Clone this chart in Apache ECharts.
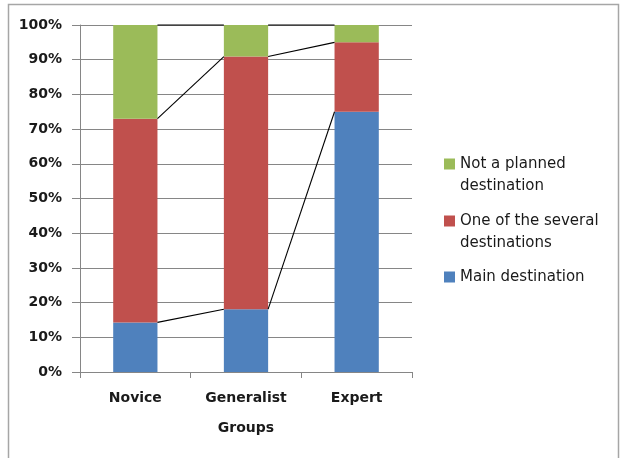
<!DOCTYPE html>
<html>
<head>
<meta charset="utf-8">
<script src="https://cdn.jsdelivr.net/npm/echarts@6/dist/echarts.min.js"></script>
<style>
  html, body { margin: 0; padding: 0; background: #ffffff; }
  #chart { width: 621px; height: 458px; }
</style>
</head>
<body>
<div id="chart"></div>
<script>
// Share of each destination type per user group (percent, stacks to 100)
var groups = ['Novice', 'Generalist', 'Expert'];
var mainDestination = [14.3, 18.1, 75.0];
var severalDestinations = [58.7, 72.8, 20.0];
var notPlanned = [27.0, 9.1, 5.0];
var yTicks = { min: 0, max: 100, step: 10 };

var seriesNames = ['Main destination', 'One of the several destinations', 'Not a planned destination'];
var seriesValues = [mainDestination, severalDestinations, notPlanned];
var seriesColors = ['#4F81BD', '#C0504D', '#9BBB59'];
var BAR_RATIO = 0.4;
var FONT = 'DejaVu Sans';

// running totals per category, one array per stack level
var cumulative = [];
seriesValues.reduce(function (acc, vals) {
  var next = vals.map(function (v, i) { return acc[i] + v; });
  cumulative.push(next);
  return next;
}, groups.map(function () { return 0; }));

var barSeries = seriesValues.map(function (vals, k) {
  return {
    name: seriesNames[k],
    type: 'bar',
    stack: 'share',
    barWidth: (BAR_RATIO * 100) + '%',
    itemStyle: { color: seriesColors[k] },
    data: vals,
    z: 2
  };
});

// connector lines joining the top of each segment to the same level in the next bar
var connectorSeries = {
  type: 'custom',
  name: 'connectors',
  silent: true,
  z: 3,
  data: groups.slice(0, -1).map(function (g, i) { return [i]; }),
  renderItem: function (params, api) {
    var i = api.value(0);
    var half = api.size([1, 0])[0] * BAR_RATIO / 2;
    var children = cumulative.map(function (levels) {
      var a = api.coord([i, levels[i]]);
      var b = api.coord([i + 1, levels[i + 1]]);
      return {
        type: 'line',
        shape: { x1: a[0] + half, y1: a[1], x2: b[0] - half, y2: b[1] },
        style: { stroke: '#000000', lineWidth: 1.1 }
      };
    });
    return { type: 'group', children: children };
  }
};

// wrapped legend labels; a leading empty line keeps the first line level with the swatch
var legendLabel = {
  'Not a planned destination': '\nNot a planned\ndestination',
  'One of the several destinations': '\nOne of the several\ndestinations',
  'Main destination': 'Main destination'
};

function legendFor(name, top) {
  return {
    orient: 'vertical',
    left: 444,
    top: top,
    padding: 0,
    itemWidth: 11,
    itemHeight: 11,
    icon: 'rect',
    selectedMode: false,
    data: [name],
    formatter: function (n) { return legendLabel[n]; },
    textStyle: {
      fontFamily: FONT,
      fontSize: 15,
      color: '#1a1a1a',
      lineHeight: 22
    }
  };
}

var chart = echarts.init(document.getElementById('chart'), null, { renderer: 'canvas' });
chart.setOption({
  backgroundColor: '#ffffff',
  animation: false,
  graphic: [{
    type: 'rect',
    shape: { x: 8.5, y: 4.5, width: 610, height: 470 },
    style: { fill: 'none', stroke: '#a6a6a6', lineWidth: 1.5 },
    silent: true,
    z: 0
  }],
  grid: { left: 80, right: 209, top: 25, bottom: 86, containLabel: false },
  legend: [
    legendFor('Not a planned destination', 131),
    legendFor('One of the several destinations', 188),
    legendFor('Main destination', 266)
  ],
  xAxis: {
    type: 'category',
    data: groups,
    name: 'Groups',
    nameLocation: 'middle',
    nameGap: 49,
    nameTextStyle: { fontFamily: FONT, fontSize: 14, fontWeight: 'bold', color: '#1a1a1a' },
    axisLine: { lineStyle: { color: '#868686', width: 1 } },
    axisTick: { show: true, length: 6, alignWithLabel: false, lineStyle: { color: '#868686' } },
    axisLabel: { margin: 19, fontFamily: FONT, fontSize: 14, fontWeight: 'bold', color: '#1a1a1a' },
    splitLine: { show: false }
  },
  yAxis: {
    type: 'value',
    min: yTicks.min,
    max: yTicks.max,
    interval: yTicks.step,
    axisLine: { show: true, lineStyle: { color: '#868686', width: 1 } },
    axisTick: { show: true, length: 8, inside: false, lineStyle: { color: '#868686' } },
    axisLabel: {
      margin: 18,
      formatter: '{value}%',
      fontFamily: FONT,
      fontSize: 14,
      fontWeight: 'bold',
      color: '#1a1a1a'
    },
    splitLine: { show: true, lineStyle: { color: '#868686', width: 1 } }
  },
  series: barSeries.concat([connectorSeries])
});
</script>
</body>
</html>
